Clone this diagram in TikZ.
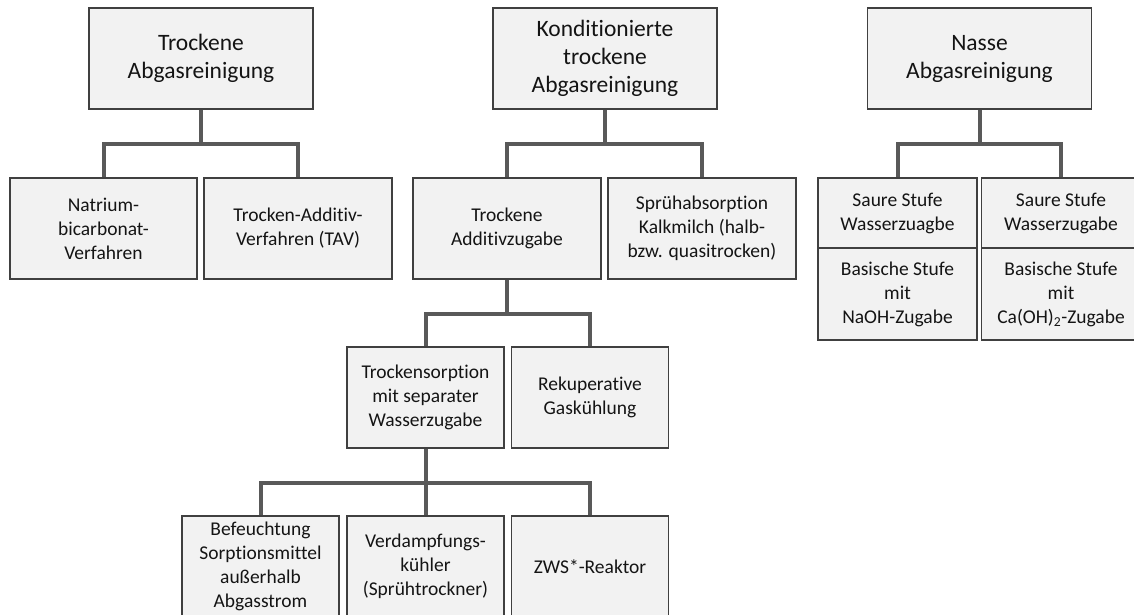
\documentclass[tikz,border=0pt]{standalone}
\usepackage{fontspec}
\setmainfont{Carlito}[Ligatures=NoCommon]
\definecolor{boxfill}{HTML}{F2F2F2}
\definecolor{boxline}{HTML}{404040}
\definecolor{connline}{HTML}{595959}
\definecolor{txt}{HTML}{141414}
\begin{document}
\begin{tikzpicture}[x=1pt,y=-1pt,
  box/.style={draw=boxline, fill=boxfill, line width=1.2pt, align=center,
    inner sep=0pt, text=txt},
  big/.style={box, minimum width=224pt, minimum height=101pt,
    font=\fontsize{23.5}{28}\selectfont},
  mid/.style={box, minimum width=188pt, minimum height=101pt,
    font=\fontsize{19.5}{24}\selectfont},
  small/.style={box, minimum width=157pt, minimum height=101pt,
    font=\fontsize{19.5}{24}\selectfont},
  wetup/.style={box, minimum width=159pt, minimum height=70pt,
    font=\fontsize{19.5}{24}\selectfont},
  wetdown/.style={box, minimum width=159pt, minimum height=92pt,
    font=\fontsize{19.5}{24}\selectfont},
  conn/.style={draw=connline, line width=4pt}]
\useasboundingbox (0,0) rectangle (1134,615);

% top level
\node[big] (dry) at (201,58.5) {Trockene\\Abgasreinigung};
\node[big] (cond) at (605,58.5) {Konditionierte\\trockene\\Abgasreinigung};
\node[big] (wet) at (979.5,58.5) {Nasse\\Abgasreinigung};

% second level
\node[mid, minimum width=187pt] (natr) at (103.5,228.5) {Natrium-\\bicarbonat-\\Verfahren};
\node[mid] (tav) at (298,228.5) {Trocken-Additiv-\\Verfahren (TAV)};
\node[mid] (addz) at (507,228.5) {Trockene\\Additivzugabe};
\node[mid] (spray) at (702,228.5) {Sprühabsorption\\Kalkmilch (halb-\\bzw. quasitrocken)};
\node[wetup] (naup) at (897.5,213) {Saure Stufe\\Wasserzuagbe};
\node[wetdown] (nadown) at (897.5,294) {Basische Stufe\\mit\\NaOH-Zugabe};
\node[wetup] (caup) at (1061,213) {Saure Stufe\\Wasserzugabe};
\node[wetdown] (cadown) at (1061,294) {Basische Stufe\\mit\\Ca(OH)\textsubscript{2}-Zugabe};

% third level
\node[small] (sorp) at (425.5,397.5) {Trockensorption\\mit separater\\Wasserzugabe};
\node[small] (reku) at (590,397.5) {Rekuperative\\Gaskühlung};

% fourth level
\node[small] (befe) at (260.5,566.5) {Befeuchtung\\Sorptionsmittel\\außerhalb\\Abgasstrom};
\node[small] (verd) at (425.5,566.5) {Verdampfungs-\\kühler\\(Sprühtrockner)};
\node[small] (zws) at (590,566.5) {ZWS*-Reaktor};

% junctions
\path (dry.south) ++(0,34) coordinate (jdry);
\path (cond.south) ++(0,34) coordinate (jcond);
\path (wet.south) ++(0,34) coordinate (jwet);
\path (addz.south) ++(0,34) coordinate (jaddz);
\path (sorp.south) ++(0,34) coordinate (jsorp);

% connectors
\draw[conn] (dry.south) -- (jdry) -| (natr.north);
\draw[conn] (jdry) -| (tav.north);
\draw[conn] (cond.south) -- (jcond) -| (addz.north);
\draw[conn] (jcond) -| (spray.north);
\draw[conn] (wet.south) -- (jwet) -| (naup.north);
\draw[conn] (jwet) -| (caup.north);
\draw[conn] (addz.south) -- (jaddz) -| (sorp.north);
\draw[conn] (jaddz) -| (reku.north);
\draw[conn] (sorp.south) -- (jsorp) -| (befe.north);
\draw[conn] (jsorp) -- (verd.north);
\draw[conn] (jsorp) -| (zws.north);
\end{tikzpicture}
\end{document}
